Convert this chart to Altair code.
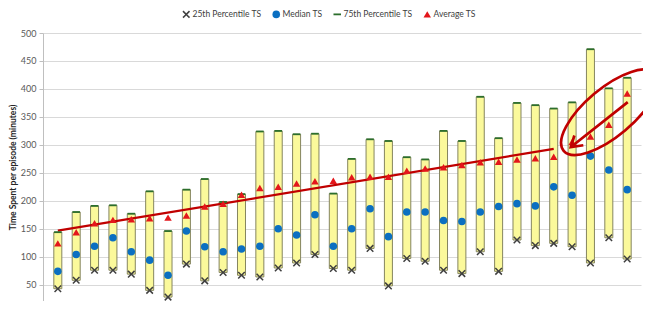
import altair as alt
import pandas as pd

# ---- data ----
episodes = list(range(32))
p25 = [43, 58, 76, 76, 69, 40, 28, 87, 57, 72, 67, 64, 80, 89, 104, 79,
       76, 115, 48, 97, 92, 76, 70, 109, 74, 130, 120, 124, 118, 89, 134, 96]
median = [74, 104, 119, 134, 109, 94, 67, 146, 118, 109, 114, 119, 150, 139, 175, 119,
          150, 186, 136, 180, 180, 165, 163, 180, 190, 195, 191, 225, 210, 280, 255, 220]
p75 = [144, 180, 191, 192, 177, 217, 146, 220, 239, 198, 212, 324, 325, 319, 320, 213,
       275, 310, 307, 278, 274, 325, 307, 386, 312, 375, 371, 365, 376, 471, 401, 420]
average = [124, 144, 160, 166, 167, 169, 170, 174, 190, 195, 211, 223, 225, 231, 235, 236,
           242, 243, 243, 254, 258, 260, 264, 269, 270, 274, 276, 279, 305, 315, 336, 392]
y_ticks = [50, 100, 150, 200, 250, 300, 350, 400, 450, 500]

series = ["25th Percentile TS", "Median TS", "75th Percentile TS", "Average TS"]
series_colors = ["#3f3f3f", "#0b6fc1", "#2c6e2c", "#e3161b"]

df = pd.DataFrame({
    "i": episodes,
    series[0]: p25,
    series[1]: median,
    series[2]: p75,
    series[3]: average,
})

X_PATH = ("M-1,-0.72L-0.72,-1L0,-0.28L0.72,-1L1,-0.72L0.28,0L1,0.72L0.72,1"
          "L0,0.28L-0.72,1L-1,0.72L-0.28,0Z")
DASH_PATH = "M-1,-0.24L1,-0.24L1,0.24L-1,0.24Z"
ELLIPSE_PATH = ("M-1,0A1,0.4 0 1,0 1,0A1,0.4 0 1,0 -1,0"
                "M0.34,0.065L-0.86,0.03"
                "M-0.7,-0.08L-0.87,0.03L-0.69,0.14")

FONT = "Lato"
TITLE = "Time Spent per episode (minutes)"

xscale = alt.Scale(domain=[-0.535, 31.48], nice=False, zero=False)
yscale = alt.Scale(domain=[21, 500], nice=False, zero=False)
yaxis = alt.Axis(values=y_ticks, labelOverlap=False, tickCount=10, grid=True)

base = alt.Chart(df)

bars = base.mark_bar(size=8, color="#fbf99b", stroke="#85855f", strokeWidth=1).encode(
    x=alt.X("i:Q", scale=xscale, axis=None),
    y=alt.Y(f"{series[0]}:Q", scale=yscale, title=TITLE, axis=yaxis),
    y2=alt.Y2(f"{series[2]}:Q"),
)

trend = base.transform_filter("datum.i <= 27").transform_regression(
    "i", series[3]
).mark_line(color="#c00000", strokeWidth=2.2).encode(
    x=alt.X("i:Q", scale=xscale, axis=None),
    y=alt.Y(f"{series[3]}:Q", scale=yscale, title=TITLE, axis=yaxis),
)

points = base.transform_fold(series, as_=["key", "value"]).mark_point(
    filled=True, opacity=1, strokeWidth=0
).encode(
    x=alt.X("i:Q", scale=xscale, axis=None),
    y=alt.Y("value:Q", scale=yscale, title=TITLE, axis=yaxis),
    color=alt.Color("key:N", scale=alt.Scale(domain=series, range=series_colors),
                    legend=alt.Legend(title=None, orient="none", direction="horizontal",
                                      legendX=139, legendY=-23)),
    shape=alt.Shape("key:N", scale=alt.Scale(domain=series,
                                             range=[X_PATH, "circle", DASH_PATH, "triangle-up"])),
    size=alt.Size("key:N", scale=alt.Scale(domain=series, range=[58, 56, 121, 100]),
                  legend=None),
)

annotation = base.transform_filter("datum.i >= 28").mark_point(
    shape=ELLIPSE_PATH, size=14400, angle=320, filled=False, fill="transparent",
    stroke="#c00000", strokeWidth=2.7, opacity=1, xOffset=10, yOffset=-12
).encode(
    x=alt.X(field="i", aggregate="mean", type="quantitative", scale=xscale, axis=None),
    y=alt.Y(field=series[3], aggregate="mean", type="quantitative", scale=yscale,
            title=TITLE, axis=yaxis),
)

chart = alt.layer(bars, trend, points, annotation).properties(
    width=598, height=268,
    autosize=alt.AutoSizeParams(type="none"),
    padding={"left": 35, "top": 25, "right": 2, "bottom": 0},
).configure_view(stroke=None).configure_axis(
    labelFont=FONT, titleFont=FONT, labelFontSize=9, labelColor="#595959",
    gridColor="#d9d9d9", gridWidth=1, domainColor="#bfbfbf", tickColor="#bfbfbf",
    tickSize=4, labelPadding=3, titleFontSize=8.5, titleFontWeight="bold",
    titleColor="#262626", titlePadding=3,
).configure_legend(
    labelFont=FONT, labelFontSize=8.5, labelColor="#404040", symbolSize=40,
    symbolStrokeWidth=0, columnPadding=10, labelOffset=2, padding=0,
)

chart.save("out.html", embed_options={"renderer": "svg", "actions": False})
